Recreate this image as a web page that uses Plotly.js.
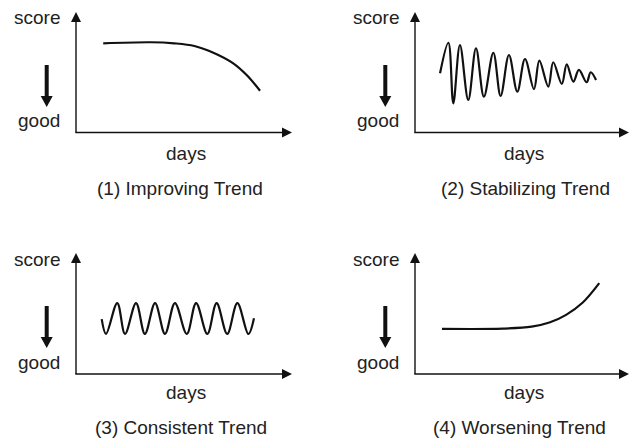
<!DOCTYPE html>
<html>
<head>
<meta charset="utf-8">
<script src="https://cdn.plot.ly/plotly-3.0.1.min.js"></script>
<style>html,body{margin:0;padding:0;background:#fff;}#chart{width:633px;height:439px;}</style>
</head>
<body>
<div id="chart"></div>
<script>
// ---- Data (days 0-100, score 0-100 within each panel) ----
const captions = ["(1) Improving Trend", "(2) Stabilizing Trend", "(3) Consistent Trend", "(4) Worsening Trend"];
const yLabelTop = "score";
const yLabelBottom = "good";
const xLabel = "days";

const improvingDays  = [12.6, 34.7, 45.5, 54.8, 63.6, 72.8, 79.0, 85.2];
const improvingScore = [74.0, 74.9, 74.0, 71.8, 66.2, 57.4, 47.7, 34.7];

const stabilizingDays  = [11.7, 15.6, 17.9, 21.0, 24.9, 28.5, 32.2, 36.6, 40.0, 43.9, 47.8, 51.4, 55.6, 58.1, 62.3, 64.6, 68.6, 70.9, 74.0, 76.6, 80.2, 82.1, 84.6];
const stabilizingScore = [49.1, 74.5, 24.2, 72.6, 27.0, 69.9, 29.7, 66.2, 30.3, 64.3, 33.9, 61.0, 35.9, 59.6, 38.1, 58.3, 40.3, 56.6, 42.2, 51.9, 41.7, 50.0, 43.6];

const consistentDays  = [11.9, 13.9, 19.1, 22.7, 27.8, 31.9, 36.6, 41.2, 45.8, 51.3, 55.6, 60.8, 65.1, 70.0, 74.7, 79.8, 82.4];
const consistentScore = [45.3, 33.1, 58.6, 33.1, 58.6, 33.1, 58.6, 33.1, 58.6, 33.1, 58.6, 33.1, 58.6, 33.1, 58.6, 33.1, 46.1];

const worseningDays  = [12.6, 41.0, 54.5, 62.8, 70.6, 78.4, 86.1];
const worseningScore = [37.3, 37.5, 39.1, 42.5, 48.9, 59.1, 75.1];

// ---- Layout geometry (pixels) ----
const W = 633, H = 439;
const fx = v => v / W, fy = v => 1 - v / H;
const panels = [
  {x0: 76,  x1: 292, y0: 132.5, y1: 12,  arrowX: 46.7,  arrowTop: 65,  labelR: 62,  scoreY: 17.5, goodY: 120.5, daysY: 153, capY: 188.5, capX: 179.5},
  {x0: 415, x1: 629, y0: 132.5, y1: 12,  arrowX: 385.3, arrowTop: 65,  labelR: 401, scoreY: 17.5, goodY: 120.5, daysY: 153, capY: 188.5, capX: 525},
  {x0: 76,  x1: 292, y0: 374,   y1: 253, arrowX: 46.7,  arrowTop: 306, labelR: 62,  scoreY: 259,  goodY: 362.5, daysY: 392.5, capY: 427.5, capX: 181},
  {x0: 415, x1: 629, y0: 374,   y1: 253, arrowX: 385.3, arrowTop: 306, labelR: 401, scoreY: 259,  goodY: 362.5, daysY: 392.5, capY: 427.5, capX: 519}
];
const series = [
  [improvingDays, improvingScore],
  [stabilizingDays, stabilizingScore],
  [consistentDays, consistentScore],
  [worseningDays, worseningScore]
];

const ink = '#111111';
const textColor = '#222222';
const font = {family: '"Liberation Sans", Arial, sans-serif', size: 19, color: textColor};

const traces = [];
const layout = {
  width: W, height: H,
  margin: {l: 0, r: 0, t: 0, b: 0},
  paper_bgcolor: '#fff', plot_bgcolor: 'rgba(0,0,0,0)',
  showlegend: false,
  shapes: [], annotations: []
};

panels.forEach((p, i) => {
  const n = i === 0 ? '' : String(i + 1);
  layout['xaxis' + n] = {domain: [fx(p.x0), fx(p.x1)], range: [0, 100], visible: false, fixedrange: true, anchor: 'y' + n};
  layout['yaxis' + n] = {domain: [fy(p.y0), fy(p.y1)], range: [0, 100], visible: false, fixedrange: true, anchor: 'x' + n};
  traces.push({
    x: series[i][0], y: series[i][1], xaxis: 'x' + n, yaxis: 'y' + n,
    type: 'scatter', mode: 'lines', hoverinfo: 'skip',
    line: {color: ink, width: 2.2, shape: 'spline', smoothing: 1}
  });
  const S = layout.shapes;
  const ln = {color: ink, width: 1.4};
  // y axis
  S.push({type: 'line', xref: 'paper', yref: 'paper', x0: fx(p.x0), y0: fy(p.y0), x1: fx(p.x0), y1: fy(p.y1 + 8), line: ln});
  // x axis
  S.push({type: 'line', xref: 'paper', yref: 'paper', x0: fx(p.x0 - 0.7), y0: fy(p.y0), x1: fx(p.x1 - 8), y1: fy(p.y0), line: ln});
  // arrowheads
  S.push({type: 'path', xref: 'paper', yref: 'paper', fillcolor: ink, line: {width: 0},
    path: `M ${fx(p.x0)} ${fy(p.y1)} L ${fx(p.x0 - 5)} ${fy(p.y1 + 10)} L ${fx(p.x0 + 5)} ${fy(p.y1 + 10)} Z`});
  S.push({type: 'path', xref: 'paper', yref: 'paper', fillcolor: ink, line: {width: 0},
    path: `M ${fx(p.x1)} ${fy(p.y0)} L ${fx(p.x1 - 10)} ${fy(p.y0 - 5)} L ${fx(p.x1 - 10)} ${fy(p.y0 + 5)} Z`});
  // "good" direction arrow
  S.push({type: 'line', xref: 'paper', yref: 'paper', x0: fx(p.arrowX), y0: fy(p.arrowTop), x1: fx(p.arrowX), y1: fy(p.arrowTop + 33), line: {color: ink, width: 4}});
  S.push({type: 'path', xref: 'paper', yref: 'paper', fillcolor: ink, line: {width: 0},
    path: `M ${fx(p.arrowX - 6)} ${fy(p.arrowTop + 31)} L ${fx(p.arrowX + 6)} ${fy(p.arrowTop + 31)} L ${fx(p.arrowX)} ${fy(p.arrowTop + 42)} Z`});
  // texts
  const A = layout.annotations;
  A.push({xref: 'paper', yref: 'paper', x: fx(p.labelR), y: fy(p.scoreY), xanchor: 'right', yanchor: 'middle', text: yLabelTop, showarrow: false, font: font});
  A.push({xref: 'paper', yref: 'paper', x: fx(p.labelR), y: fy(p.goodY), xanchor: 'right', yanchor: 'middle', text: yLabelBottom, showarrow: false, font: font});
  A.push({xref: 'paper', yref: 'paper', x: fx((p.x0 + p.x1) / 2 + 2), y: fy(p.daysY), xanchor: 'center', yanchor: 'middle', text: xLabel, showarrow: false, font: font});
  A.push({xref: 'paper', yref: 'paper', x: fx(p.capX), y: fy(p.capY), xanchor: 'center', yanchor: 'middle', text: captions[i], showarrow: false, font: font});
});

Plotly.newPlot('chart', traces, layout, {staticPlot: true, displayModeBar: false});
</script>
</body>
</html>
